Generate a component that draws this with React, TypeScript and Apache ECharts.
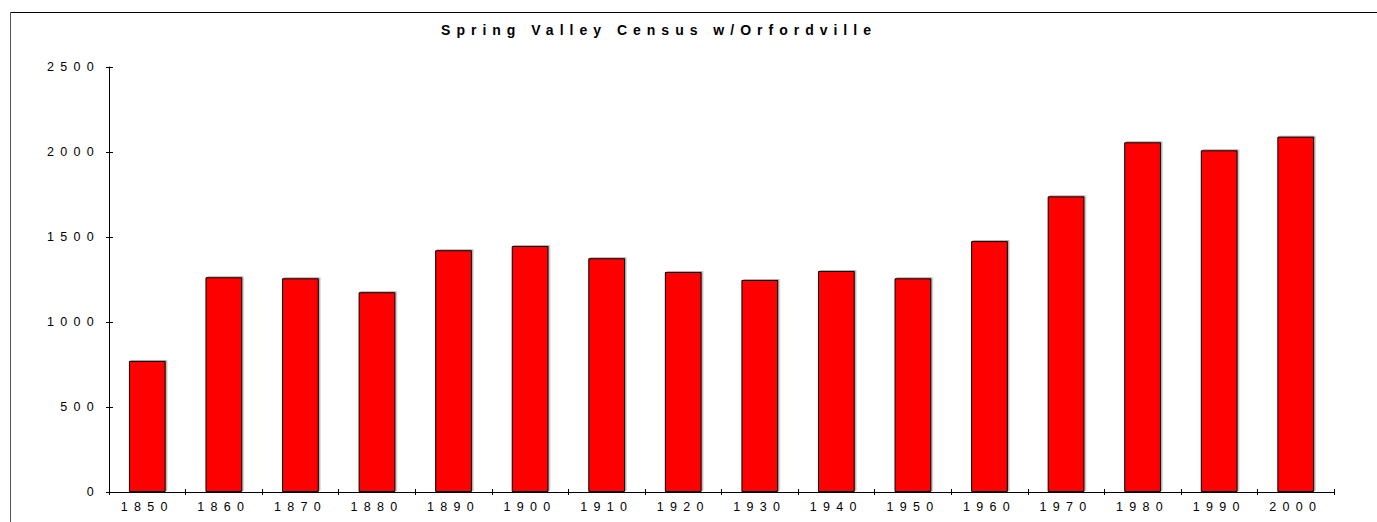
import React, { useEffect, useRef } from "react";
import * as echarts from "echarts";

const titleText = "Spring Valley Census w/Orfordville";
const years = ["1850", "1860", "1870", "1880", "1890", "1900", "1910", "1920", "1930", "1940", "1950", "1960", "1970", "1980", "1990", "2000"];
const population = [771, 1263, 1257, 1175, 1422, 1447, 1375, 1294, 1247, 1300, 1257, 1476, 1739, 2057, 2010, 2090];
const yMin = 0;
const yMax = 2500;
const yInterval = 500;

const css = `
.sv-chart text { letter-spacing: 6.3px; }
.sv-chart text[style*="bold"], .sv-chart text[font-weight="bold"] { letter-spacing: 6px; }
`;

export default function App() {
  const ref = useRef<HTMLDivElement>(null);
  useEffect(() => {
    if (!ref.current) return;
    const chart = echarts.init(ref.current, undefined, { renderer: "svg" });
    const font = "'Liberation Sans', Arial, sans-serif";
    chart.setOption({
      animation: false,
      backgroundColor: "#fff",
      textStyle: { fontFamily: font },
      grid: { left: 109, right: 43, top: 67, bottom: 30, containLabel: false },
      xAxis: [
        {
          type: "category",
          data: years,
          boundaryGap: true,
          axisLine: { show: true, lineStyle: { color: "#000", width: 1 } },
          axisTick: { show: true, alignWithLabel: false, length: 3, lineStyle: { color: "#000" } },
          axisLabel: { color: "#000", fontSize: 12.5, margin: 8, fontFamily: font },
          splitLine: { show: false },
        },
        {
          type: "category",
          data: years,
          position: "bottom",
          boundaryGap: true,
          axisLine: { show: false },
          axisTick: { show: true, inside: true, length: 3, lineStyle: { color: "#000" } },
          axisLabel: { show: false },
          splitLine: { show: false },
        },
      ],
      yAxis: [
        {
          type: "value",
          min: yMin,
          max: yMax,
          interval: yInterval,
          axisLine: { show: true, lineStyle: { color: "#000", width: 1 } },
          axisTick: { show: true, length: 3, lineStyle: { color: "#000" } },
          axisLabel: {
            color: "#000",
            fontSize: 12.5,
            margin: 9,
            fontFamily: font,
            formatter: (v: number) => String(v),
          },
          splitLine: { show: false },
        },
        {
          type: "value",
          min: yMin,
          max: yMax,
          interval: yInterval,
          position: "left",
          axisLine: { show: false },
          axisTick: { show: true, inside: true, length: 4, lineStyle: { color: "#000" } },
          axisLabel: { show: false },
          splitLine: { show: false },
        },
      ],
      series: [
        {
          type: "bar",
          data: population,
          xAxisIndex: 0,
          yAxisIndex: 0,
          barWidth: "48%",
          itemStyle: {
            color: "#ff0000",
            borderColor: "#000",
            borderWidth: 1,
            shadowColor: "rgba(0,0,0,0.3)",
            shadowBlur: 0,
            shadowOffsetX: 1.5,
            shadowOffsetY: -1,
          },
        },
      ],
      graphic: [
        {
          type: "line",
          shape: { x1: 10, y1: 12.5, x2: 1377, y2: 12.5 },
          style: { stroke: "#000", lineWidth: 1 },
          silent: true,
        },
        {
          type: "line",
          shape: { x1: 10.5, y1: 12, x2: 10.5, y2: 522 },
          style: { stroke: "#555", lineWidth: 1 },
          silent: true,
        },
        {
          type: "text",
          x: 659,
          y: 30,
          style: {
            text: titleText,
            align: "center",
            verticalAlign: "middle",
            fontSize: 14,
            fontWeight: "bold",
            fontFamily: font,
            fill: "#000",
          },
          silent: true,
        },
      ],
    });
    return () => chart.dispose();
  }, []);
  return (
    <>
      <style>{css}</style>
      <div
        ref={ref}
        className="sv-chart"
        style={{ position: "absolute", left: 0, top: 0, width: 1377, height: 522 }}
      />
    </>
  );
}
